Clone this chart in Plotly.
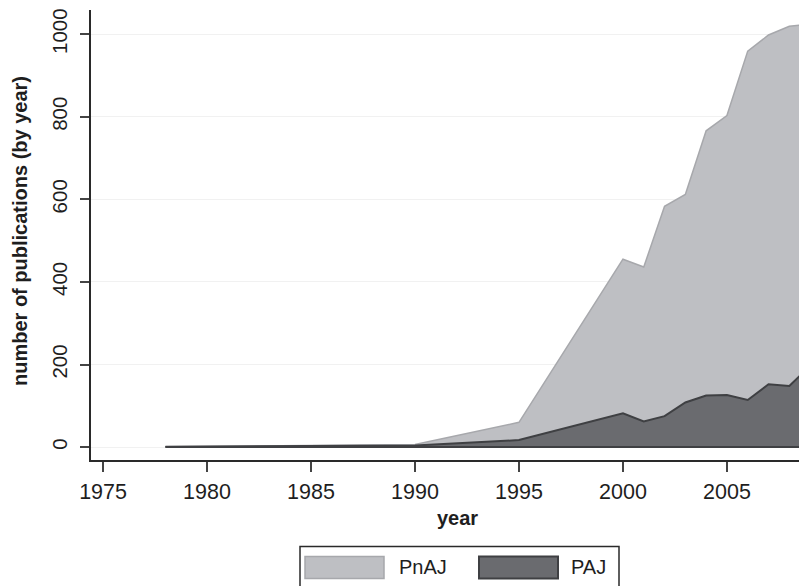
import plotly.graph_objects as go

# ---- data ----
years = [1978, 1990, 1995, 2000, 2001, 2002, 2003, 2004, 2005, 2006, 2007, 2008, 2009]
paj   = [1, 4, 17, 82, 62, 75, 108, 125, 126, 114, 152, 148, 197]
pnaj  = [0, 2, 43, 373, 374, 508, 504, 641, 677, 845, 846, 871, 828]
total = [a + b for a, b in zip(paj, pnaj)]
x_ticks = [1975, 1980, 1985, 1990, 1995, 2000, 2005]
y_ticks = [0, 200, 400, 600, 800, 1000]
series_names = ["PnAJ", "PAJ"]

# page is offset by the body's default 8px margin
OFF = 8
W, H = 807 - OFF, 586 - OFF
# plot area in page pixels: x 91..807, y 8..460
ML, MT = 91 - OFF, 8 - OFF
MR, MB = 0, 586 - 460
PW, PH = W - ML - MR, H - MT - MB

def px(x):  # page pixel x -> paper
    return (x - OFF - ML) / PW

def py(y):  # page pixel y -> paper
    return (H - MB - (y - OFF)) / PH

LIGHT = "#bebfc3"
LIGHT_LINE = "#a7a8ac"
DARK = "#6a6b6f"
DARK_LINE = "#3f4043"
FONT = "Liberation Sans, Arial, sans-serif"
TXT = "#1e1e1e"

fig = go.Figure()
fig.add_trace(go.Scatter(x=years, y=total, mode="lines", fill="tozeroy",
                         fillcolor=LIGHT, line=dict(color=LIGHT_LINE, width=1.5),
                         name=series_names[0], showlegend=False))
fig.add_trace(go.Scatter(x=years, y=paj, mode="lines", fill="tozeroy",
                         fillcolor=DARK, line=dict(color=DARK_LINE, width=2),
                         name=series_names[1], showlegend=False))
fig.add_trace(go.Scatter(x=years, y=[0] * len(years), mode="lines",
                         line=dict(color=DARK_LINE, width=2),
                         showlegend=False, hoverinfo="skip"))

fig.update_layout(
    width=W, height=H,
    margin=dict(l=ML, r=MR, t=MT, b=MB, pad=0),
    paper_bgcolor="white", plot_bgcolor="white",
    font=dict(family=FONT, size=20, color=TXT),
    showlegend=False,
)
fig.update_xaxes(
    range=[1974.42, 2008.85], tickvals=x_ticks, ticktext=[str(t) for t in x_ticks],
    showgrid=False, zeroline=False,
    showline=True, linecolor="#2a2a2a", linewidth=1.5,
    ticks="outside", ticklen=10, tickwidth=1.5, tickcolor="#444",
    tickfont=dict(size=21.5, color=TXT), ticklabelstandoff=1,
    ticklabeloverflow="allow",
)
fig.update_yaxes(
    range=[-31.3, 1058.6], tickvals=y_ticks, ticktext=[str(t) for t in y_ticks],
    showgrid=True, gridcolor="#f1f1f1", gridwidth=1, zeroline=False,
    showline=True, linecolor="#2a2a2a", linewidth=1.5,
    ticks="outside", ticklen=9, tickwidth=1.5, tickcolor="#444",
    tickangle=-90, tickfont=dict(size=20.5, color=TXT), ticklabelstandoff=5,
    ticklabeloverflow="allow",
)

# axis titles
fig.add_annotation(x=px(20), y=py(230), xref="paper", yref="paper",
                   text="<b>number of publications (by year)</b>", textangle=-90,
                   showarrow=False, font=dict(size=20, color=TXT),
                   xanchor="center", yanchor="middle")
fig.add_annotation(x=px(457), y=py(518), xref="paper", yref="paper",
                   text="<b>year</b>", showarrow=False,
                   font=dict(size=20, color=TXT), xanchor="center", yanchor="middle")

# legend (drawn manually)
fig.add_shape(type="rect", xref="paper", yref="paper",
              x0=px(300), x1=px(619), y0=py(547), y1=py(610),
              line=dict(color="#2a2a2a", width=1.5), fillcolor="white")
fig.add_shape(type="rect", xref="paper", yref="paper",
              x0=px(305), x1=px(384), y0=py(557), y1=py(579),
              line=dict(color=LIGHT_LINE, width=1.5), fillcolor=LIGHT)
fig.add_shape(type="rect", xref="paper", yref="paper",
              x0=px(479), x1=px(558), y0=py(557), y1=py(579),
              line=dict(color=DARK_LINE, width=2), fillcolor=DARK)
fig.add_annotation(x=px(397), y=py(567), xref="paper", yref="paper",
                   text=series_names[0], showarrow=False, xanchor="left",
                   yanchor="middle", font=dict(size=20, color=TXT))
fig.add_annotation(x=px(569), y=py(567), xref="paper", yref="paper",
                   text=series_names[1], showarrow=False, xanchor="left",
                   yanchor="middle", font=dict(size=20, color=TXT))

fig.write_html("out.html")
